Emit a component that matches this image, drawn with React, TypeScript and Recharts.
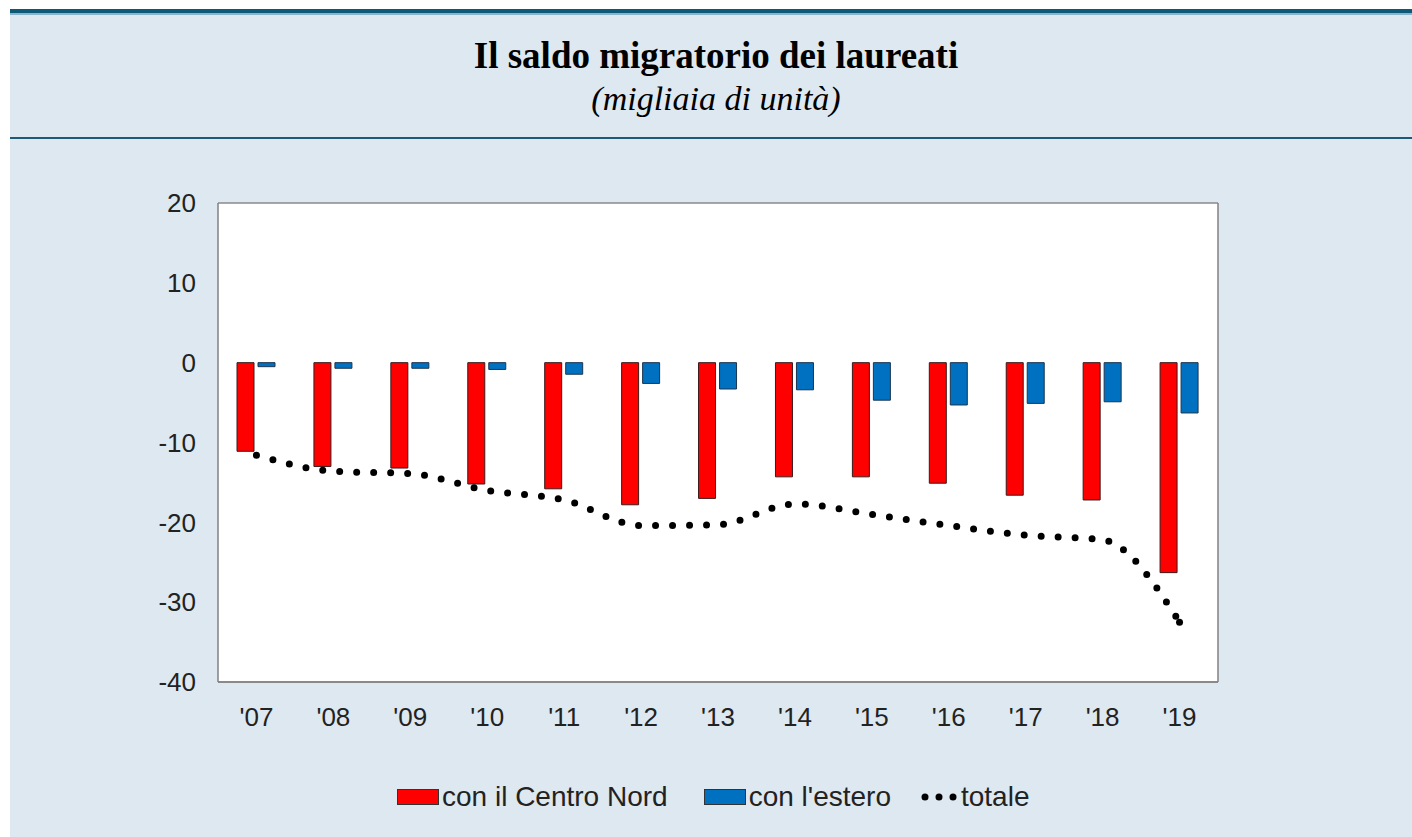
import React from "react";
import { Bar, CartesianGrid, ComposedChart, Line, XAxis, YAxis } from "recharts";

const years = ["'07", "'08", "'09", "'10", "'11", "'12", "'13", "'14", "'15", "'16", "'17", "'18", "'19"];
const centroNord = [-11.1, -13.0, -13.2, -15.2, -15.8, -17.8, -17.0, -14.3, -14.3, -15.1, -16.6, -17.2, -26.3];
const estero = [-0.5, -0.7, -0.7, -0.85, -1.45, -2.6, -3.3, -3.4, -4.7, -5.3, -5.1, -4.9, -6.3];
const totale = [-11.6, -13.6, -13.9, -16.0, -17.2, -20.4, -20.3, -17.7, -19.0, -20.4, -21.6, -22.2, -32.5];
const yTicks = [-40, -30, -20, -10, 0, 10, 20];

const data = years.map((year, i) => ({
  year,
  centroNord: centroNord[i],
  estero: estero[i],
  totale: totale[i],
}));

const sans = "'Liberation Sans', Arial, sans-serif";
const axisFont = { fontFamily: sans, fontSize: 26, fill: "#222" };

// only the end point gets an explicit dot, so the dotted line finishes on the last value
const endDot = (props: any) => {
  const { cx, cy, index } = props;
  if (index !== years.length - 1) return <g key={`d${index}`} />;
  return <circle key={`d${index}`} cx={cx} cy={cy} r={3.5} fill="#000" />;
};

function LegendBox() {
  const text: React.CSSProperties = { fontFamily: sans, fontSize: 28, color: "#222" };
  return (
    <div style={{ position: "absolute", left: 397, top: 780, display: "flex", alignItems: "center", height: 34 }}>
      <span style={{ width: 40, height: 14, background: "#ff0000", border: "1px solid #333", display: "inline-block" }} />
      <span style={{ ...text, marginLeft: 3, marginRight: 36 }}>con il Centro Nord</span>
      <span style={{ width: 40, height: 14, background: "#0070c0", border: "1px solid #333", display: "inline-block" }} />
      <span style={{ ...text, marginLeft: 3, marginRight: 30 }}>con l'estero</span>
      <svg width={38} height={14}>
        <circle cx={4} cy={7} r={3.5} fill="#000" />
        <circle cx={18} cy={7} r={3.5} fill="#000" />
        <circle cx={32} cy={7} r={3.5} fill="#000" />
      </svg>
      <span style={{ ...text, marginLeft: 2 }}>totale</span>
    </div>
  );
}

export default function App() {
  return (
    <div style={{ position: "absolute", left: 0, top: 0, width: 1412, height: 837, background: "#fff", overflow: "hidden" }}>
      <div style={{ position: "absolute", left: 10, top: 9, right: 0, bottom: 0, background: "#dee8f1" }} />
      <div style={{ position: "absolute", left: 10, top: 9, right: 0, height: 4, background: "#0c5a78" }} />
      <div style={{ position: "absolute", left: 10, top: 13, right: 0, height: 2, background: "#8db2cb" }} />
      <div style={{ position: "absolute", left: 10, top: 137, right: 0, height: 2, background: "#1d5a76" }} />
      <div
        style={{
          position: "absolute",
          left: 20,
          right: 0,
          top: 34,
          textAlign: "center",
          fontFamily: "'Liberation Serif', 'Times New Roman', serif",
          color: "#000",
        }}
      >
        <div style={{ fontSize: 37, fontWeight: "bold", lineHeight: "44px" }}>Il saldo migratorio dei laureati</div>
        <div style={{ fontSize: 34, fontStyle: "italic", lineHeight: "42px" }}>(migliaia di unità)</div>
      </div>
      <div style={{ position: "absolute", left: 0, top: 0 }}>
        <ComposedChart
          width={1412}
          height={837}
          data={data}
          margin={{ top: 203, right: 134, bottom: 115, left: 158 }}
          barSize={17}
          barGap={4}
        >
          <CartesianGrid fill="#fff" stroke="#8a8a8a" strokeWidth={1.5} vertical={false} />
          <XAxis
            dataKey="year"
            height={40}
            tick={axisFont}
            tickLine={false}
            tickSize={0}
            tickMargin={26}
            stroke="#808080"
            strokeWidth={1.5}
          />
          <YAxis
            yAxisId="left"
            width={60}
            domain={[-40, 20]}
            ticks={yTicks}
            tick={axisFont}
            tickLine={false}
            tickSize={0}
            tickMargin={22}
            stroke="#808080"
            strokeWidth={1.5}
            interval={0}
          />
          <YAxis
            yAxisId="right"
            orientation="right"
            width={60}
            domain={[-40, 20]}
            ticks={yTicks}
            tick={{ ...axisFont, textAnchor: "start" }}
            tickLine={false}
            tickSize={0}
            tickMargin={22}
            stroke="#808080"
            strokeWidth={1.5}
            interval={0}
          />
          <Bar yAxisId="left" dataKey="centroNord" name="con il Centro Nord" fill="#ff0000" stroke="#3a1a1a" strokeWidth={1} isAnimationActive={false} />
          <Bar yAxisId="left" dataKey="estero" name="con l'estero" fill="#0070c0" stroke="#1c3550" strokeWidth={1} isAnimationActive={false} />
          <Line
            yAxisId="left"
            type="monotone"
            dataKey="totale"
            name="totale"
            stroke="#000"
            strokeWidth={7}
            strokeDasharray="0 17"
            strokeLinecap="round"
            dot={endDot}
            activeDot={false}
            isAnimationActive={false}
          />
        </ComposedChart>
      </div>
      <LegendBox />
    </div>
  );
}
